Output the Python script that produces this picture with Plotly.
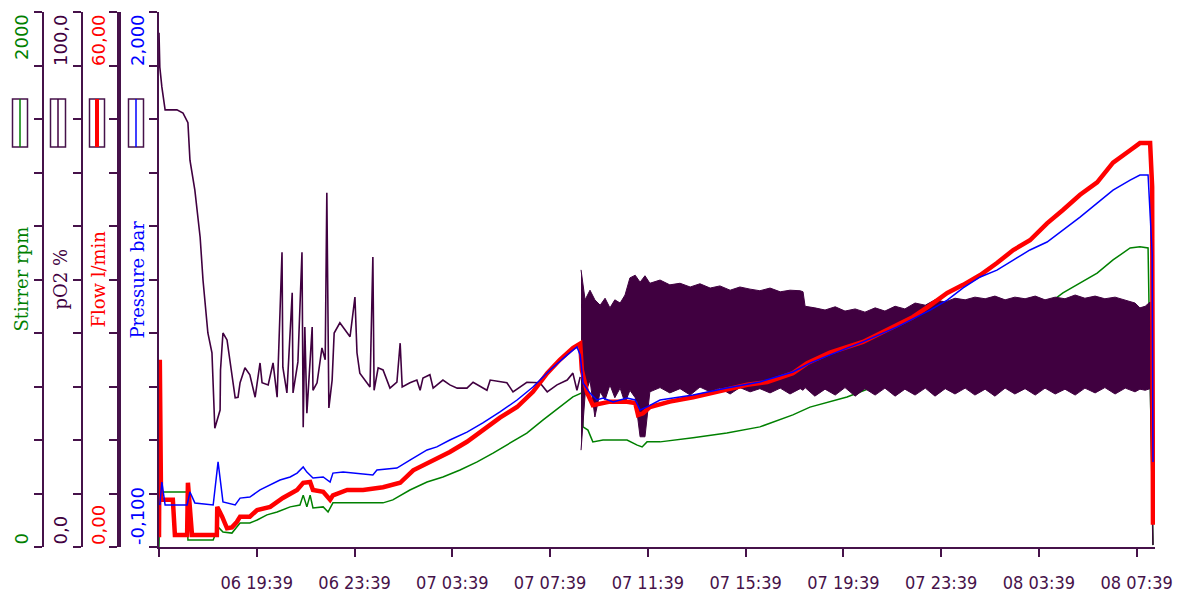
import numpy as np
import pandas as pd
import plotly.graph_objects as go

# ---- run start and sample times (minutes after START) -------------------
START = pd.Timestamp("2023-03-06 15:39")
RUN_MINUTES = 2445

# Stirrer speed, rpm
stir_t = [0, 2, 69, 71, 133, 145, 157, 179, 191, 199, 223, 241, 265, 290, 322, 346, 354, 363, 371, 378,
          403, 415, 427, 469, 550, 574, 616, 658, 697, 739, 781, 820, 862, 903, 943, 984, 1016, 1038, 1041, 1053,
          1065, 1090, 1149, 1174, 1186, 1198, 1230, 1311, 1394, 1475, 1556, 1598, 1689, 1753, 1851, 1935, 2016, 2097, 2180, 2219,
          2261, 2303, 2342, 2384, 2408, 2428, 2440]
stir_v = [0, 206, 206, 26, 26, 75, 56, 52, 75, 90, 90, 101, 120, 131, 150, 157, 194, 150, 194, 146,
          150, 131, 165, 165, 165, 176, 213, 243, 262, 288, 318, 351, 389, 426, 475, 523, 561, 576, 449, 437,
          393, 400, 400, 381, 374, 393, 393, 408, 426, 449, 494, 523, 561, 598, 651, 699, 755, 830, 905, 950,
          987, 1024, 1073, 1118, 1122, 1118, 7]

# Dissolved oxygen, % (first phase)
po2_t = [0, 2, 7, 15, 44, 59, 71, 76, 88, 101, 108, 120, 130, 137, 150, 151, 157, 167, 187, 194,
         199, 211, 223, 236, 248, 253, 268, 280, 290, 302, 304, 314, 327, 329, 341, 351, 354, 358, 363, 376,
         378, 388, 400, 408, 412, 417, 425, 430, 444, 469, 481, 486, 493, 518, 525, 528, 538, 550, 567, 584,
         592, 597, 616, 633, 641, 648, 665, 673, 697, 714, 732, 756, 771, 805, 813, 854, 869, 903, 935, 953,
         977, 1002, 1016, 1026, 1034]
po2_v = [96.1, 89.7, 86.0, 81.7, 81.7, 81.1, 79.3, 72.3, 66.7, 57.9, 49.9, 40.0, 36.3, 22.2, 25.6, 33.1, 40.0, 38.7, 27.9, 28.0,
         30.7, 33.5, 32.2, 28.0, 34.4, 30.7, 30.3, 34.4, 28.0, 55.1, 33.6, 28.8, 47.5, 28.8, 34.6, 55.1, 22.4, 41.1, 25.0, 41.1,
         29.3, 30.7, 37.2, 35.0, 66.2, 26.0, 31.2, 40.0, 41.9, 39.3, 46.7, 36.3, 32.5, 29.9, 54.2, 29.3, 33.5, 33.1, 29.7, 30.8,
         38.1, 29.9, 30.7, 31.2, 29.3, 31.6, 32.2, 29.7, 31.2, 30.3, 29.7, 29.7, 30.8, 29.3, 31.2, 30.7, 29.0, 30.8, 30.7, 29.0,
         30.3, 31.2, 32.5, 29.3, 31.8]

# Dissolved oxygen, % (controlled phase: upper / lower envelope of the oscillation)
band_t = [1036, 1046, 1058, 1070, 1083, 1095, 1107, 1119, 1132, 1144,
          1156, 1169, 1181, 1193, 1205, 1230, 1254, 1279, 1304, 1328,
          1353, 1377, 1402, 1426, 1451, 1475, 1500, 1525, 1549, 1574,
          1581, 1586, 1610, 1635, 1660, 1684, 1709, 1733, 1758, 1782,
          1807, 1831, 1856, 1881, 1905, 1930, 1954, 1979, 2003, 2028,
          2052, 2077, 2101, 2126, 2151, 2175, 2200, 2224, 2249, 2273,
          2298, 2322, 2347, 2372, 2396, 2408, 2421, 2433, 2440]
band_hi = [51.8, 46.2, 48.0, 46.2, 45.2, 46.5, 44.7, 46.2, 45.6, 47.1,
           50.3, 50.8, 49.5, 50.7, 49.3, 49.9, 49.0, 49.3, 48.6, 49.2,
           48.4, 48.8, 48.0, 48.6, 48.2, 47.9, 48.4, 47.7, 48.0, 47.9,
           47.7, 45.0, 44.7, 44.3, 44.9, 44.1, 44.5, 43.9, 44.7, 44.1,
           45.0, 44.5, 45.6, 45.2, 46.2, 45.8, 46.5, 46.2, 46.7, 46.4,
           46.9, 46.2, 46.7, 46.4, 46.9, 46.2, 46.7, 46.4, 47.1, 46.5,
           46.9, 46.4, 46.7, 46.2, 45.6, 44.7, 45.0, 45.8, 0.4]
band_lo = [18.1, 28.4, 31.2, 24.3, 29.0, 27.5, 30.3, 27.9, 29.7, 26.9,
           29.3, 27.9, 20.6, 20.6, 29.0, 29.8, 28.8, 29.6, 28.4, 29.9,
           29.0, 29.7, 28.6, 29.8, 29.0, 29.6, 28.8, 29.7, 28.6, 29.6,
           29.3, 29.8, 28.2, 29.5, 28.4, 29.8, 28.2, 29.6, 28.4, 29.7,
           28.2, 29.5, 28.4, 29.7, 28.2, 29.6, 28.6, 29.7, 28.4, 29.5,
           28.2, 29.7, 28.6, 29.6, 28.4, 29.7, 28.6, 29.5, 28.4, 29.7,
           28.8, 29.8, 28.6, 29.7, 29.0, 29.5, 29.3, 29.6, 0.4]

# Gas flow, l/min
flow_t = [0, 2, 5, 34, 39, 69, 71, 81, 142, 143, 155, 167, 179, 191, 199, 223, 241, 273, 304, 339,
          354, 371, 378, 403, 420, 427, 462, 501, 550, 592, 624, 665, 714, 756, 795, 837, 879, 918, 953, 984,
          1016, 1034, 1038, 1051, 1065, 1090, 1107, 1149, 1169, 1176, 1188, 1205, 1254, 1311, 1394, 1444, 1493, 1556, 1591, 1647,
          1728, 1770, 1812, 1851, 1893, 1935, 1974, 2016, 2057, 2097, 2138, 2180, 2219, 2261, 2303, 2342, 2384, 2408, 2433, 2438,
          2440]
flow_v = [1.1, 21.0, 5.3, 5.3, 1.35, 1.35, 7.2, 1.35, 1.35, 4.5, 3.4, 2.1, 2.2, 2.8, 3.4, 3.4, 4.15, 4.5, 5.5, 6.4,
          7.2, 7.3, 6.4, 6.2, 5.3, 5.8, 6.4, 6.4, 6.7, 7.2, 8.6, 9.5, 10.65, 11.8, 13.1, 14.5, 15.7, 17.4, 19.5, 21.0,
          22.3, 22.8, 19.85, 17.3, 15.9, 16.15, 16.3, 16.3, 16.15, 14.8, 15.0, 15.7, 16.3, 16.8, 17.6, 18.2, 18.5, 19.5, 20.6, 21.8,
          23.0, 24.0, 24.9, 25.8, 27.1, 28.5, 29.4, 30.5, 31.85, 33.3, 34.4, 36.3, 37.8, 39.5, 40.9, 43.1, 44.5, 45.3, 45.3, 40.4,
          2.5]

# Vessel pressure, bar
pres_t = [2, 7, 15, 69, 76, 88, 133, 145, 157, 187, 199, 223, 248, 273, 297, 322, 339, 354, 363, 378,
          403, 420, 427, 452, 525, 535, 584, 616, 658, 682, 714, 756, 795, 837, 879, 918, 960, 1002, 1026, 1034,
          1041, 1058, 1075, 1090, 1115, 1149, 1169, 1181, 1198, 1230, 1311, 1394, 1475, 1556, 1598, 1647, 1728, 1812, 1893, 1935,
          1974, 2016, 2057, 2097, 2138, 2180, 2219, 2261, 2303, 2342, 2384, 2408, 2428, 2438, 2440]
pres_v = [0.065, 0.155, 0.065, 0.065, 0.116, 0.073, 0.065, 0.234, 0.077, 0.065, 0.092, 0.096, 0.124, 0.143, 0.163, 0.175, 0.190, 0.214, 0.194, 0.171,
          0.175, 0.155, 0.190, 0.194, 0.183, 0.202, 0.210, 0.241, 0.281, 0.293, 0.320, 0.351, 0.387, 0.430, 0.477, 0.528, 0.595, 0.654, 0.685, 0.654,
          0.544, 0.504, 0.477, 0.485, 0.469, 0.485, 0.477, 0.438, 0.450, 0.477, 0.497, 0.524, 0.548, 0.587, 0.622, 0.654, 0.705, 0.764, 0.830, 0.869,
          0.917, 0.960, 0.987, 1.026, 1.066, 1.097, 1.144, 1.195, 1.250, 1.301, 1.340, 1.360, 1.360, 1.054, 0.234]

# Axis ranges and the end labels shown on each value axis
stir_range, stir_labels = [0, 2000], ["2000", "0"]
po2_range, po2_labels = [0, 100], ["100,0", "0,0"]
flow_range, flow_labels = [0, 60], ["60,00", "0,00"]
pres_range, pres_labels = [-0.1, 2.0], ["2,000", "-0,100"]

# Time axis ticks (every 4 h)
tick_times = ["2023-03-06 15:39", "2023-03-06 19:39", "2023-03-06 23:39", "2023-03-07 03:39",
              "2023-03-07 07:39", "2023-03-07 11:39", "2023-03-07 15:39", "2023-03-07 19:39",
              "2023-03-07 23:39", "2023-03-08 03:39", "2023-03-08 07:39"]
tick_text = ["", "06 19:39", "06 23:39", "07 03:39", "07 07:39", "07 11:39", "07 15:39",
             "07 19:39", "07 23:39", "08 03:39", "08 07:39"]

W, H = 1189, 592
AX = "#46124a"
PURPLE = "#400040"
GREEN = "#008000"
RED = "#ff0000"
BLUE = "#0000ff"


def at(minutes):
    return [START + pd.Timedelta(minutes=m) for m in minutes]


fig = go.Figure()
fig.add_trace(go.Scatter(x=at(stir_t), y=stir_v, yaxis="y", mode="lines",
                         line=dict(color=GREEN, width=1.5), name="Stirrer"))
fig.add_trace(go.Scatter(x=at(po2_t), y=po2_v, yaxis="y2", mode="lines",
                         line=dict(color=PURPLE, width=1.6), name="pO2"))
fig.add_trace(go.Scatter(x=at(band_t), y=band_lo, yaxis="y2", mode="lines",
                         line=dict(color=PURPLE, width=1), name="pO2 low"))
fig.add_trace(go.Scatter(x=at(band_t), y=band_hi, yaxis="y2", mode="lines",
                         line=dict(color=PURPLE, width=1), fill="tonexty",
                         fillcolor=PURPLE, name="pO2 high"))
fig.add_trace(go.Scatter(x=at(flow_t), y=flow_v, yaxis="y3", mode="lines",
                         line=dict(color=RED, width=4.5), name="Flow"))
fig.add_trace(go.Scatter(x=at(pres_t), y=pres_v, yaxis="y4", mode="lines",
                         line=dict(color=BLUE, width=1.5), name="Pressure"))


def value_axis(rng, pos=None, width=2, overlay=True):
    ax = dict(range=rng, showline=True, linecolor=AX, linewidth=width,
              ticks="outside", ticklen=8, tickwidth=2, tickcolor=AX,
              tickmode="array", tickvals=list(np.linspace(rng[0], rng[1], 11)),
              showticklabels=False, showgrid=False, zeroline=False, side="left",
              automargin=False)
    if pos is None:
        ax["anchor"] = "x"
    else:
        ax["anchor"] = "free"
        ax["position"] = pos / W
    if overlay:
        ax["overlaying"] = "y"
    return ax


fig.update_layout(
    template="none",
    width=W, height=H, autosize=False,
    margin=dict(l=0, r=0, t=12, b=45, pad=0),
    paper_bgcolor="white", plot_bgcolor="white",
    showlegend=False,
    xaxis=dict(domain=[159 / W, 1155 / W], type="date",
               range=[START, START + pd.Timedelta(minutes=RUN_MINUTES)],
               showline=True, linecolor=AX, linewidth=2,
               ticks="outside", ticklen=8, tickwidth=2, tickcolor=AX,
               tickmode="array", tickvals=tick_times, ticktext=tick_text,
               tickfont=dict(family="DejaVu Sans Condensed, Liberation Sans", size=18, color=AX),
               ticklabelstandoff=10, showgrid=False, zeroline=False, anchor="y",
               automargin=False),
    yaxis=value_axis(stir_range, pos=43, overlay=False),
    yaxis2=value_axis(po2_range, pos=82),
    yaxis3=value_axis(flow_range, pos=119, width=4),
    yaxis4=value_axis(pres_range, pos=None),
)

# End labels and titles of the value axes
axes_info = [
    ("y", stir_range, stir_labels, "Stirrer rpm", GREEN, 21),
    ("y2", po2_range, po2_labels, "pO2 %", PURPLE, 60),
    ("y3", flow_range, flow_labels, "Flow l/min", RED, 98),
    ("y4", pres_range, pres_labels, "Pressure bar", BLUE, 137),
]
tick_font = dict(family="DejaVu Sans", size=18)
title_font = dict(family="DejaVu Serif", size=18)
for yref, rng, labels, title, color, xc in axes_info:
    fig.add_annotation(x=xc / W, xref="paper", y=rng[1], yref=yref, text=labels[0],
                       textangle=-90, showarrow=False, xanchor="center", yanchor="top",
                       font=dict(color=color, **tick_font))
    fig.add_annotation(x=xc / W, xref="paper", y=rng[0], yref=yref, text=labels[1],
                       textangle=-90, showarrow=False, xanchor="center", yanchor="bottom",
                       font=dict(color=color, **tick_font))
    fig.add_annotation(x=xc / W, xref="paper", y=0.5, yref="paper", text=title,
                       textangle=-90, showarrow=False, xanchor="center", yanchor="middle",
                       font=dict(color=color, **title_font))

# Small line-style keys under the top labels
keys = [(20, GREEN, 1.5), (58, PURPLE, 1.5), (97, RED, 4), (136, BLUE, 1.5)]
y_top, y_bot = (547 - 99) / 535, (547 - 147) / 535
for xc, color, lw in keys:
    fig.add_shape(type="rect", xref="paper", yref="paper",
                  x0=(xc - 7.5) / W, x1=(xc + 7.5) / W, y0=y_bot, y1=y_top,
                  line=dict(color=AX, width=1.5), fillcolor="white")
    fig.add_shape(type="line", xref="paper", yref="paper",
                  x0=xc / W, x1=xc / W, y0=y_bot, y1=y_top,
                  line=dict(color=color, width=lw))

fig.write_html("out.html")
